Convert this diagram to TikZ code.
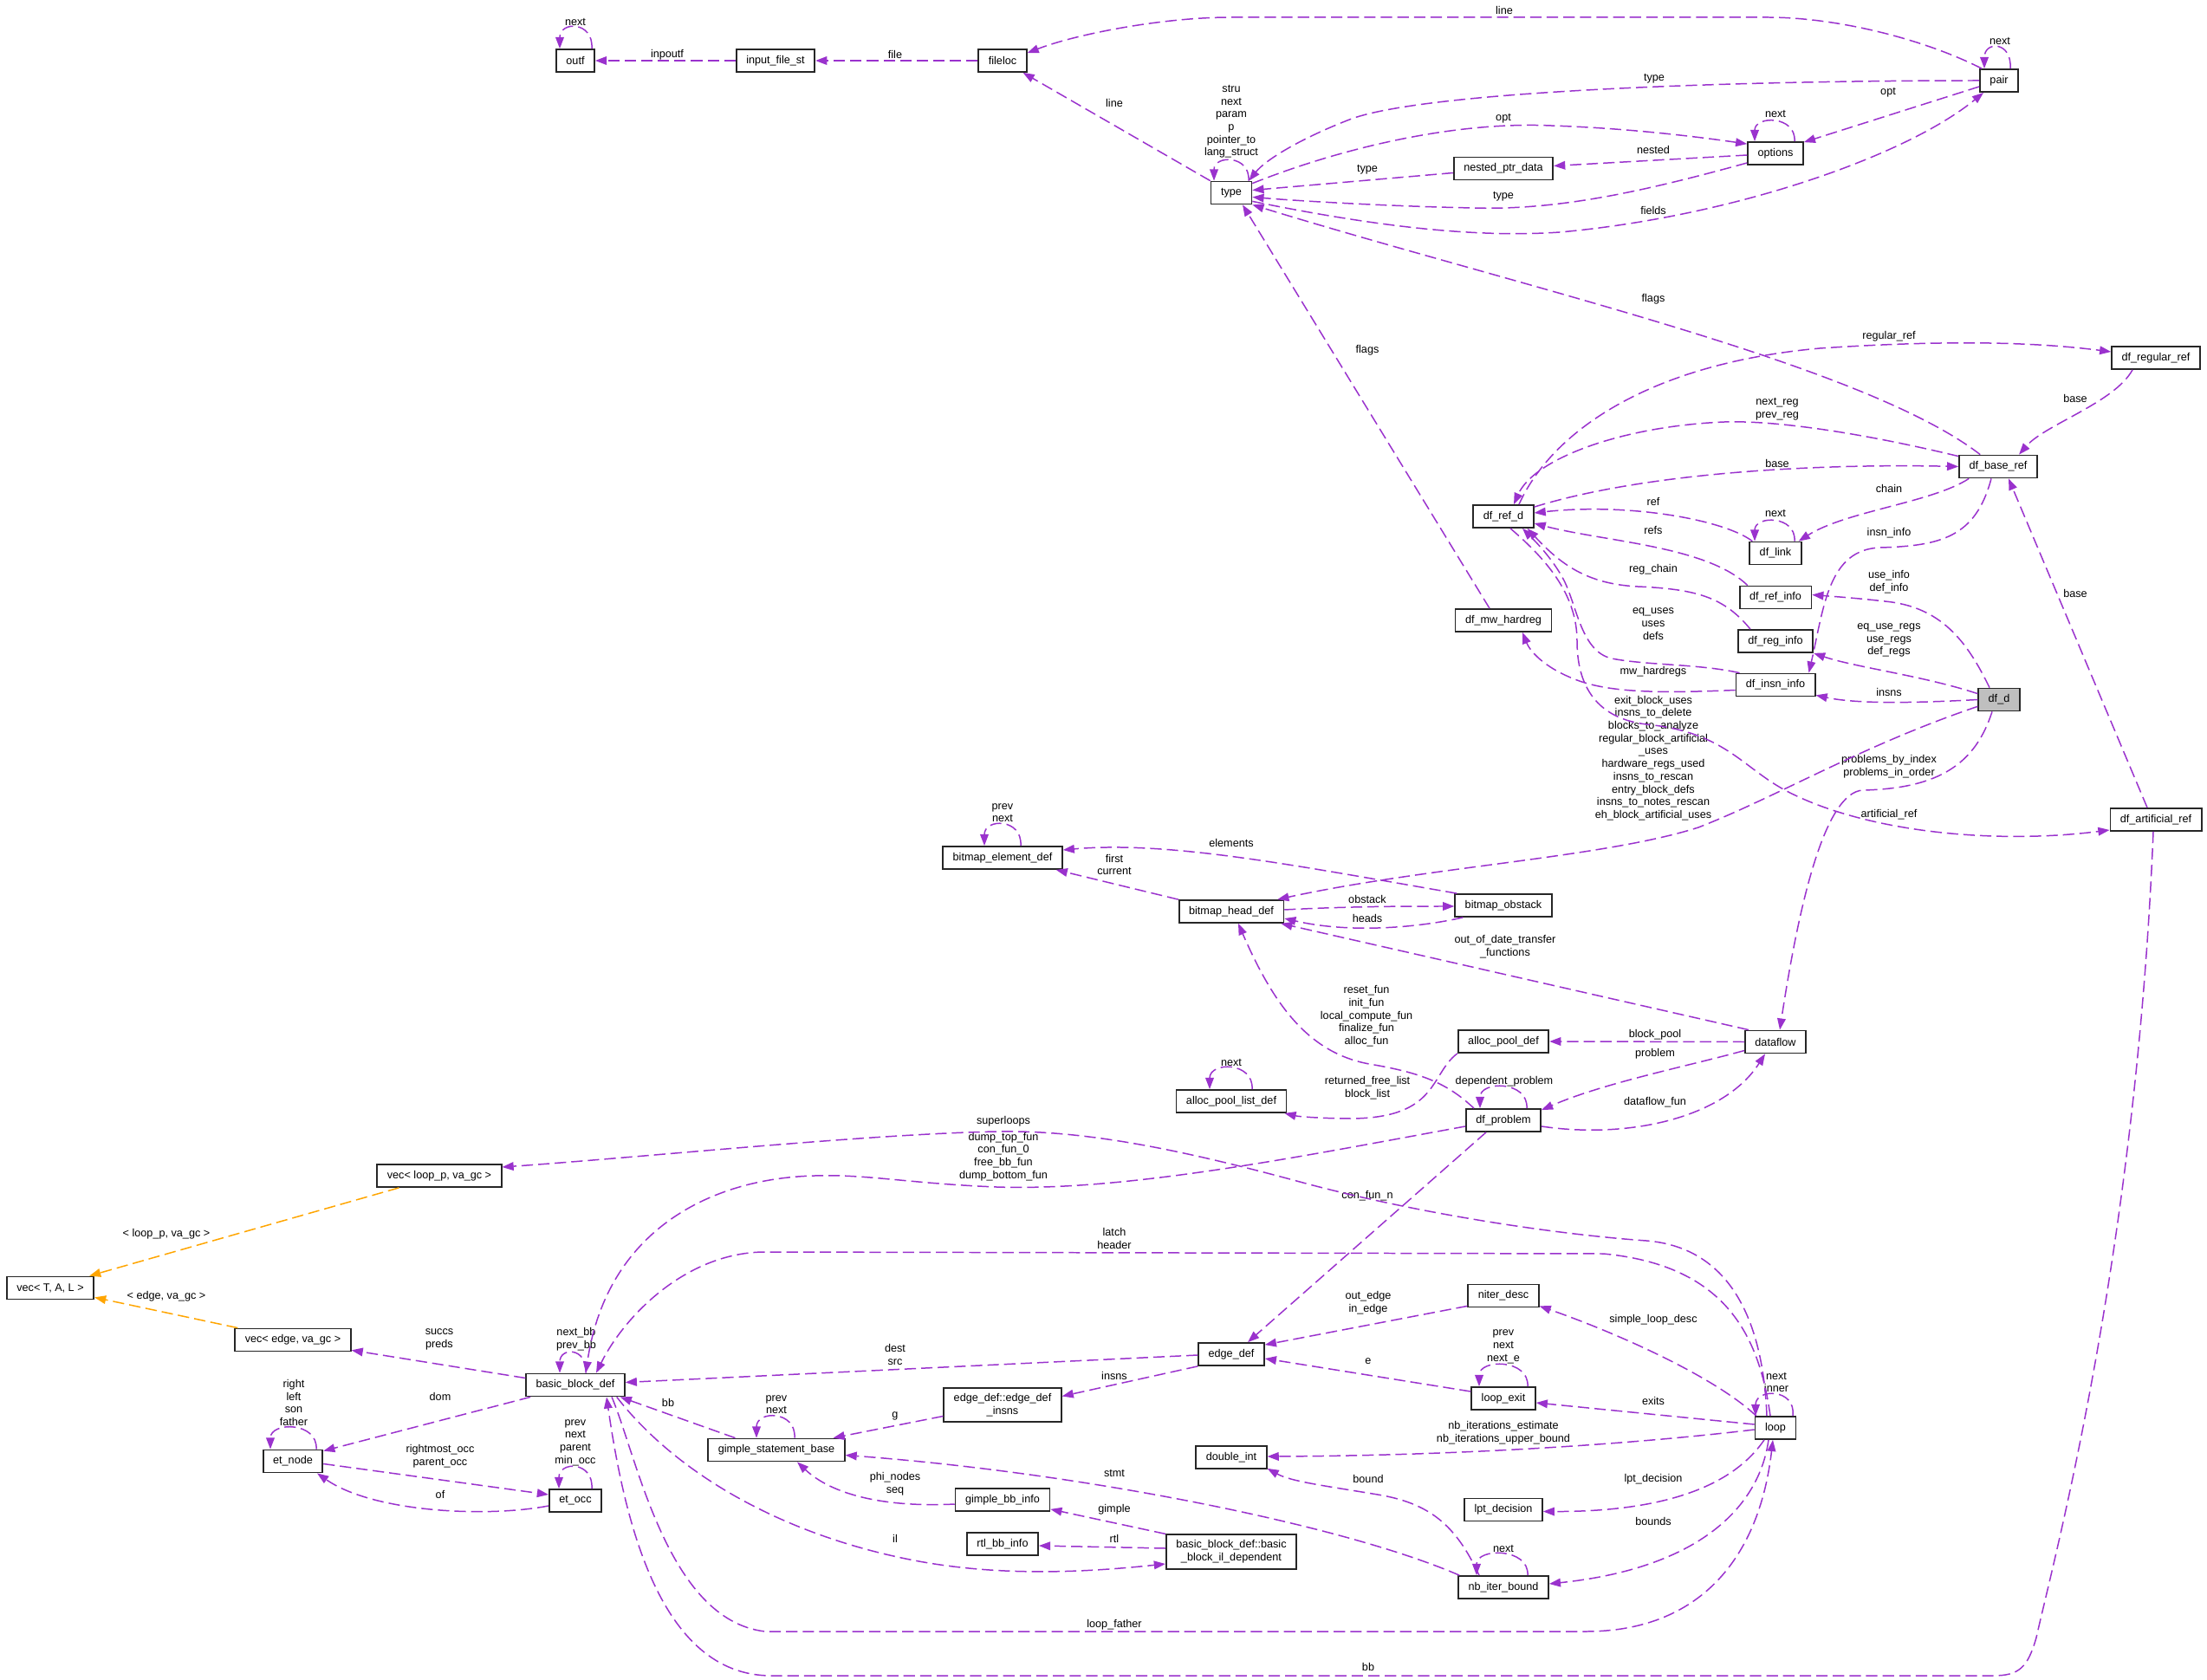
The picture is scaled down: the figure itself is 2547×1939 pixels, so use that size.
\documentclass[tikz,border=0pt]{standalone}
\usepackage{fontspec}
\setmainfont{Liberation Sans}
\usetikzlibrary{arrows.meta,calc}
\definecolor{dotpurple}{HTML}{9A32CD}
\definecolor{dotorange}{HTML}{FFA500}
\definecolor{dotgray}{HTML}{BFBFBF}
\tikzstyle{cls}=[rectangle,draw=black!85,line width=1pt,fill=white,align=center,minimum height=0.52cm,inner xsep=0.23cm,inner ysep=0.13cm,font=\fontsize{7.2}{8.35}\selectfont]
\tikzstyle{root}=[cls,fill=dotgray]
\tikzstyle{lbl}=[align=center,inner sep=0pt,font=\fontsize{7.2}{8.35}\selectfont]
\tikzstyle{dep}=[color=dotpurple,line width=0.85pt,dash pattern=on 7.5pt off 3.4pt,-{Triangle[length=7.5pt,width=5.5pt]}]
\tikzstyle{tmpl}=[dep,color=dotorange]

\begin{document}
\begin{tikzpicture}[x=0.02cm,y=-0.02cm]
\useasboundingbox (0,0) rectangle (2547,1939);
\node[cls] (outf) at (664,70) {outf};
\node[cls] (inputfile) at (895,70) {input\_file\_st};
\node[cls] (fileloc) at (1157,70) {fileloc};
\node[cls] (pair) at (2307,93) {pair};
\node[cls] (type) at (1421,222.5) {type};
\node[cls] (nestedptr) at (1735,194.5) {nested\_ptr\_data};
\node[cls] (options) at (2049,177) {options};
\node[cls] (regularref) at (2488,413) {df\_regular\_ref};
\node[cls] (baseref) at (2306,538.5) {df\_base\_ref};
\node[cls] (refd) at (1735,596) {df\_ref\_d};
\node[cls] (link) at (2049,638.5) {df\_link};
\node[cls] (refinfo) at (2049,689.5) {df\_ref\_info};
\node[cls] (reginfo) at (2049,740) {df\_reg\_info};
\node[cls] (mwhardreg) at (1735,716) {df\_mw\_hardreg};
\node[cls] (insninfo) at (2049,790.5) {df\_insn\_info};
\node[root] (dfd) at (2307,807.5) {df\_d};
\node[cls] (artificialref) at (2488,946) {df\_artificial\_ref};
\node[cls] (dataflow) at (2049,1202.5) {dataflow};
\node[cls] (elemdef) at (1157,990) {bitmap\_element\_def};
\node[cls] (headdef) at (1421,1052) {bitmap\_head\_def};
\node[cls] (obstack) at (1735,1045) {bitmap\_obstack};
\node[cls] (pooldef) at (1735,1202) {alloc\_pool\_def};
\node[cls] (poollist) at (1421,1271) {alloc\_pool\_list\_def};
\node[cls] (problem) at (1735,1293) {df\_problem};
\node[cls] (vecloop) at (507,1357) {vec< loop\_p, va\_gc >};
\node[cls] (vectal) at (58,1486.5) {vec< T, A, L >};
\node[cls] (vecedge) at (338,1546.5) {vec< edge, va\_gc >};
\node[cls] (bb) at (664,1598.5) {basic\_block\_def};
\node[cls] (etnode) at (338,1686.5) {et\_node};
\node[cls] (etocc) at (664,1732) {et\_occ};
\node[cls] (gsb) at (896,1673.5) {gimple\_statement\_base};
\node[cls] (edgeinsns) at (1157,1621.5) {edge\_def::edge\_def\\\_insns};
\node[cls] (edgedef) at (1421,1563) {edge\_def};
\node[cls] (doubleint) at (1421,1682) {double\_int};
\node[cls] (gbbinfo) at (1157,1731) {gimple\_bb\_info};
\node[cls] (rtlinfo) at (1157,1782) {rtl\_bb\_info};
\node[cls] (ildep) at (1421,1791) {basic\_block\_def::basic\\\_block\_il\_dependent};
\node[cls] (niterdesc) at (1735,1495.5) {niter\_desc};
\node[cls] (loopexit) at (1735,1614) {loop\_exit};
\node[cls] (loop) at (2049,1648) {loop};
\node[cls] (lptdec) at (1735,1742.5) {lpt\_decision};
\node[cls] (nbiter) at (1735,1832) {nb\_iter\_bound};

\node[lbl] (tnextoutf) at (664,25) {next};
\node[lbl] (tinpoutf) at (770,63) {inpoutf};
\node[lbl] (tfile) at (1033,63) {file};
\node[lbl] (tlinepair) at (1736,12) {line};
\node[lbl] (tlinetype) at (1286,119) {line};
\node[lbl] (tselftype) at (1421,140.5) {stru\\next\\param\\p\\pointer\_to\\lang\_struct};
\node[lbl] (ttypepair) at (1909,91) {type};
\node[lbl] (toptpair) at (2179,107) {opt};
\node[lbl] (topttype) at (1735,137) {opt};
\node[lbl] (tnextopt) at (2049,131) {next};
\node[lbl] (tnested) at (1908,173) {nested};
\node[lbl] (ttypenest) at (1578,196) {type};
\node[lbl] (ttypeopt) at (1735,227) {type};
\node[lbl] (tfields) at (1908,243) {fields};
\node[lbl] (tnextpair) at (2308,47) {next};
\node[lbl] (tflagsbase) at (1908,345) {flags};
\node[lbl] (tflagsmw) at (1578,404) {flags};
\node[lbl] (tregular) at (2180,388) {regular\_ref};
\node[lbl] (tbasereg) at (2395,460) {base};
\node[lbl] (tnextreg) at (2051,472.5) {next\_reg\\prev\_reg};
\node[lbl] (tbaserefd) at (2051,535) {base};
\node[lbl] (tchain) at (2180,564) {chain};
\node[lbl] (tref) at (1908,579) {ref};
\node[lbl] (tnextlink) at (2049,592) {next};
\node[lbl] (trefs) at (1908,612) {refs};
\node[lbl] (tinsninfo) at (2180,615) {insn\_info};
\node[lbl] (tregchain) at (1908,657) {reg\_chain};
\node[lbl] (tuseinfo) at (2180,671.5) {use\_info\\def\_info};
\node[lbl] (tbaseart) at (2395,685) {base};
\node[lbl] (tequses) at (1908,720) {eq\_uses\\uses\\defs};
\node[lbl] (tuseregs) at (2180,739) {eq\_use\_regs\\use\_regs\\def\_regs};
\node[lbl] (tmwhard) at (1908,775) {mw\_hardregs};
\node[lbl] (tinsns) at (2180,799) {insns};
\node[lbl] (tblocks) at (1908,875) {exit\_block\_uses\\insns\_to\_delete\\blocks\_to\_analyze\\regular\_block\_artificial\\\_uses\\hardware\_regs\_used\\insns\_to\_rescan\\entry\_block\_defs\\insns\_to\_notes\_rescan\\eh\_block\_artificial\_uses};
\node[lbl] (tproblems) at (2180,884.5) {problems\_by\_index\\problems\_in\_order};
\node[lbl] (tartificial) at (2180,940) {artificial\_ref};
\node[lbl] (tprevelem) at (1157,938) {prev\\next};
\node[lbl] (telements) at (1421,973) {elements};
\node[lbl] (tfirst) at (1286,998) {first\\current};
\node[lbl] (tobstack) at (1578,1038) {obstack};
\node[lbl] (theads) at (1578,1060) {heads};
\node[lbl] (toutofdate) at (1737,1092.5) {out\_of\_date\_transfer\\\_functions};
\node[lbl] (tfuns) at (1577,1173) {reset\_fun\\init\_fun\\local\_compute\_fun\\finalize\_fun\\alloc\_fun};
\node[lbl] (tblockpool) at (1910,1194) {block\_pool};
\node[lbl] (tproblem) at (1910,1216) {problem};
\node[lbl] (tnextpool) at (1421,1226) {next};
\node[lbl] (tfreelist) at (1578,1255.5) {returned\_free\_list\\block\_list};
\node[lbl] (tdependent) at (1736,1248) {dependent\_problem};
\node[lbl] (tdataflowfun) at (1910,1272) {dataflow\_fun};
\node[lbl] (tsuperloops) at (1158,1294) {superloops};
\node[lbl] (tdumpfuns) at (1158,1335) {dump\_top\_fun\\con\_fun\_0\\free\_bb\_fun\\dump\_bottom\_fun};
\node[lbl] (tconfunn) at (1578,1380) {con\_fun\_n};
\node[lbl] (tvecloop) at (192,1424) {< loop\_p, va\_gc >};
\node[lbl] (tlatch) at (1286,1429.5) {latch\\header};
\node[lbl] (tvecedge) at (192,1496) {< edge, va\_gc >};
\node[lbl] (toutedge) at (1579,1503.5) {out\_edge\\in\_edge};
\node[lbl] (tsimple) at (1908,1523) {simple\_loop\_desc};
\node[lbl] (tsuccs) at (507,1546) {succs\\preds};
\node[lbl] (tnextbb) at (665,1546) {next\_bb\\prev\_bb};
\node[lbl] (tprevexit) at (1735,1554.5) {prev\\next\\next\_e};
\node[lbl] (tdest) at (1033,1563.5) {dest\\src};
\node[lbl] (te) at (1579,1571) {e};
\node[lbl] (tinsnsedge) at (1286,1588) {insns};
\node[lbl] (tnextloop) at (2050,1595.5) {next\\inner};
\node[lbl] (tdom) at (508,1612) {dom};
\node[lbl] (tright) at (339,1619) {right\\left\\son\\father};
\node[lbl] (tbbgsb) at (771,1619) {bb};
\node[lbl] (tprevgsb) at (896,1621) {prev\\next};
\node[lbl] (texits) at (1908,1617) {exits};
\node[lbl] (tg) at (1033,1634) {g};
\node[lbl] (tprevocc) at (664,1665) {prev\\next\\parent\\min\_occ};
\node[lbl] (tnbiter) at (1735,1654) {nb\_iterations\_estimate\\nb\_iterations\_upper\_bound};
\node[lbl] (trightmost) at (508,1680.5) {rightmost\_occ\\parent\_occ};
\node[lbl] (tstmt) at (1286,1700) {stmt};
\node[lbl] (tphi) at (1033,1713) {phi\_nodes\\seq};
\node[lbl] (tbound) at (1579,1707) {bound};
\node[lbl] (tlpt) at (1908,1707) {lpt\_decision};
\node[lbl] (tof) at (508,1725) {of};
\node[lbl] (tgimple) at (1286,1742) {gimple};
\node[lbl] (tbounds) at (1908,1756) {bounds};
\node[lbl] (trtl) at (1286,1776) {rtl};
\node[lbl] (til) at (1033,1776) {il};
\node[lbl] (tnextnb) at (1735,1787) {next};
\node[lbl] (tloopfather) at (1286,1875) {loop\_father};
\node[lbl] (tbbart) at (1579,1924) {bb};

\draw[dep] ($(outf.north)+(19,0)$) .. controls +(2,-32) and +(0,-32) .. ($(outf.north)+(-18,0)$);
\draw[dep] ($(type.north)+(20,0)$) .. controls +(2,-30) and +(0,-30) .. ($(type.north)+(-20,0)$);
\draw[dep] ($(options.north)+(22,0)$) .. controls +(2,-30) and +(0,-30) .. ($(options.north)+(-24,0)$);
\draw[dep] ($(pair.north)+(13,0)$) .. controls +(2,-32) and +(0,-32) .. ($(pair.north)+(-17,0)$);
\draw[dep] ($(link.north)+(22,0)$) .. controls +(2,-30) and +(0,-30) .. ($(link.north)+(-24,0)$);
\draw[dep] ($(elemdef.north)+(21,0)$) .. controls +(2,-32) and +(0,-32) .. ($(elemdef.north)+(-21,0)$);
\draw[dep] ($(poollist.north)+(24,0)$) .. controls +(2,-32) and +(0,-32) .. ($(poollist.north)+(-25,0)$);
\draw[dep] ($(problem.north)+(27,0)$) .. controls +(2,-32) and +(0,-32) .. ($(problem.north)+(-27,0)$);
\draw[dep] ($(bb.north)+(12,0)$) .. controls +(2,-30) and +(0,-30) .. ($(bb.north)+(-18,0)$);
\draw[dep] ($(etnode.north)+(27,0)$) .. controls +(2,-32) and +(0,-32) .. ($(etnode.north)+(-26,0)$);
\draw[dep] ($(etocc.north)+(19,0)$) .. controls +(2,-32) and +(0,-32) .. ($(etocc.north)+(-19,0)$);
\draw[dep] ($(gsb.north)+(21,0)$) .. controls +(2,-32) and +(0,-32) .. ($(gsb.north)+(-23,0)$);
\draw[dep] ($(loopexit.north)+(28,0)$) .. controls +(2,-32) and +(0,-32) .. ($(loopexit.north)+(-28,0)$);
\draw[dep] ($(nbiter.north)+(28,0)$) .. controls +(2,-32) and +(0,-32) .. ($(nbiter.north)+(-31,0)$);
\draw[dep] ($(loop.north)+(20,0)$) .. controls +(4,-32) and +(0,-32) .. ($(loop.north)+(-23,0)$);

\draw[dep] (inputfile.west) -- (outf.east);
\draw[dep] (fileloc.west) -- (inputfile.east);
\draw[dep] ($(pair.north west)+(3,0)$) .. controls (2220,45) and (2120,20) .. (2040,20) -- (1420,20) .. controls (1340,20) and (1240,40) .. ($(fileloc.north east)+(0,5)$);
\draw[dep] (type.north west) -- ($(fileloc.south east)+(-5,0)$);
\draw[dep] (pair.west) .. controls (2000,93) and (1650,105) .. (1560,137) .. controls (1500,160) and (1460,185) .. ($(type.north east)+(-4,0)$);
\draw[dep] ($(type.north east)+(0,3)$) .. controls (1550,170) and (1680,140) .. (1790,145) .. controls (1880,148) and (1960,158) .. ($(options.north west)+(0,3)$);
\draw[dep] ($(pair.west)+(0,7)$) -- ($(options.north east)+(0,1)$);
\draw[dep] ($(options.west)+(0,2)$) -- ($(nestedptr.east)+(0,-3)$);
\draw[dep] ($(nestedptr.west)+(0,5)$) -- ($(type.east)+(0,-3)$);
\draw[dep] ($(options.west)+(0,11)$) .. controls (1900,220) and (1800,243) .. (1700,240) .. controls (1600,238) and (1500,232) .. ($(type.east)+(0,5)$);
\draw[dep] ($(type.south east)+(0,-4)$) .. controls (1580,260) and (1700,275) .. (1800,268) .. controls (2000,250) and (2200,180) .. ($(pair.south west)+(5,0)$);
\draw[dep] ($(baseref.north west)+(25,0)$) .. controls (2150,420) and (1750,330) .. (type.south east);
\draw[dep] ($(mwhardreg.north)+(-16,0)$) -- ($(type.south)+(13,0)$);
\draw[dep] ($(refd.north)+(18,0)$) .. controls (1790,500) and (1900,420) .. (2100,402) .. controls (2250,392) and (2350,395) .. ($(regularref.west)+(0,-7)$);
\draw[dep] ($(regularref.south)+(-27,0)$) .. controls (2440,465) and (2360,490) .. ($(baseref.north)+(24,0)$);
\draw[dep] ($(baseref.north west)+(0,2)$) .. controls (2150,500) and (2050,485) .. (1990,487) .. controls (1870,492) and (1770,530) .. ($(refd.north)+(12,0)$);
\draw[dep] ($(refd.north east)+(0,3)$) .. controls (1900,545) and (2100,535) .. (baseref.west);
\draw[dep] ($(baseref.south west)+(12,0)$) .. controls (2230,580) and (2130,590) .. ($(link.north east)+(-4,0)$);
\draw[dep] ($(link.north west)+(4,0)$) .. controls (1990,600) and (1880,580) .. ($(refd.east)+(0,-4)$);
\draw[dep] ($(refinfo.north west)+(10,0)$) .. controls (1970,630) and (1850,625) .. ($(refd.east)+(0,8)$);
\draw[dep] ($(reginfo.north west)+(15,0)$) .. controls (1990,690) and (1960,680) .. (1890,677) .. controls (1830,674) and (1800,650) .. ($(refd.south east)+(-8,0)$);
\draw[dep] ($(insninfo.north west)+(5,0)$) .. controls (1960,766) and (1900,768) .. (1860,760) .. controls (1825,752) and (1820,700) .. (1805,670) .. controls (1792,645) and (1772,625) .. ($(refd.south)+(22,0)$);
\draw[dep] ($(baseref.south)+(-8,0)$) .. controls (2280,620) and (2240,630) .. (2170,632) .. controls (2110,634) and (2105,700) .. ($(insninfo.north east)+(-8,0)$);
\draw[dep] ($(dfd.north)+(-11,0)$) .. controls (2270,740) and (2240,700) .. (2175,694) .. controls (2140,690) and (2110,688) .. ($(refinfo.east)+(0,-3)$);
\draw[dep] ($(dfd.north west)+(0,7)$) .. controls (2220,780) and (2140,770) .. (reginfo.south east);
\draw[dep] (dfd.west) .. controls (2200,812) and (2140,812) .. ($(insninfo.south east)+(0,-2)$);
\draw[dep] ($(insninfo.west)+(0,6)$) .. controls (1920,800) and (1860,800) .. (1820,785) .. controls (1780,770) and (1765,750) .. ($(mwhardreg.south)+(22,0)$);
\draw[dep] ($(artificialref.north)+(-10,0)$) -- ($(baseref.south)+(12,0)$);
\draw[dep] ($(refd.south)+(8,0)$) .. controls (1790,650) and (1820,690) .. (1820,740) .. controls (1820,800) and (1850,830) .. (1900,836) .. controls (1990,845) and (2010,885) .. (2060,912) .. controls (2150,960) and (2300,975) .. ($(artificialref.west)+(0,12)$);
\draw[dep] ($(dfd.south west)+(0,-6)$) .. controls (2150,860) and (2050,920) .. (1960,955) .. controls (1850,990) and (1650,1000) .. ($(headdef.north east)+(-8,0)$);
\draw[dep] ($(dfd.south)+(-8,0)$) .. controls (2280,880) and (2240,910) .. (2150,912) .. controls (2105,914) and (2075,1050) .. ($(dataflow.north)+(5,0)$);
\draw[dep] (dataflow.west) -- (pooldef.east);
\draw[dep] ($(dataflow.west)+(0,10)$) .. controls (1950,1230) and (1850,1250) .. ($(problem.north east)+(0,2)$);
\draw[dep] ($(problem.east)+(0,7)$) .. controls (1880,1315) and (1990,1290) .. ($(dataflow.south)+(-12,0)$);
\draw[dep] ($(dataflow.north west)+(5,0)$) -- ($(headdef.south east)+(-4,0)$);
\draw[dep] (headdef.north west) -- ($(elemdef.south east)+(-8,0)$);
\draw[dep] ($(obstack.north west)+(3,0)$) .. controls (1500,1000) and (1350,970) .. ($(elemdef.east)+(0,-9)$);
\draw[dep] ($(headdef.east)+(0,-2)$) .. controls (1560,1046) and (1620,1046) .. ($(obstack.west)+(0,1)$);
\draw[dep] ($(obstack.south west)+(10,0)$) .. controls (1640,1070) and (1560,1078) .. ($(headdef.east)+(0,8)$);
\draw[dep] ($(problem.north west)+(10,0)$) .. controls (1670,1250) and (1640,1238) .. (1580,1228) .. controls (1510,1215) and (1470,1160) .. ($(headdef.south)+(8,0)$);
\draw[dep] (pooldef.south west) .. controls (1650,1240) and (1660,1290) .. (1560,1291) .. controls (1530,1291) and (1500,1289) .. ($(poollist.south east)+(-3,0)$);
\draw[dep] ($(loop.north)+(-10,0)$) .. controls (2035,1530) and (2000,1440) .. (1900,1432) .. controls (1800,1425) and (1640,1402) .. (1500,1364) .. controls (1360,1326) and (1250,1304) .. (1150,1306) .. controls (1000,1309) and (750,1335) .. ($(vecloop.east)+(0,-10)$);
\draw[dep] ($(problem.west)+(0,7)$) .. controls (1500,1335) and (1300,1375) .. (1150,1370) .. controls (1050,1366) and (1000,1355) .. (940,1357) .. controls (820,1360) and (700,1420) .. ($(bb.north)+(12,0)$);
\draw[dep] ($(loop.north)+(-6,0)$) .. controls (2030,1540) and (1990,1460) .. (1850,1447) -- (880,1445) .. controls (790,1447) and (720,1520) .. ($(bb.north)+(24,0)$);
\draw[dep] ($(loop.north west)+(2,0)$) .. controls (1980,1590) and (1870,1540) .. ($(niterdesc.south east)+(0,-2)$);
\draw[dep] ($(loop.west)+(0,-4)$) -- ($(loopexit.east)+(0,5)$);
\draw[dep] ($(loop.west)+(0,2)$) .. controls (1900,1665) and (1700,1680) .. ($(doubleint.east)+(0,-1)$);
\draw[dep] ($(loop.south)+(-13,0)$) .. controls (2010,1700) and (1950,1745) .. ($(lptdec.east)+(0,2)$);
\draw[dep] ($(loop.south)+(-8,0)$) .. controls (2030,1740) and (1960,1810) .. ($(nbiter.east)+(0,-4)$);
\draw[dep] ($(bb.south)+(42,0)$) .. controls (735,1680) and (770,1870) .. (883,1883) -- (1830,1883) .. controls (1960,1883) and (2030,1800) .. ($(loop.south)+(-3,0)$);
\draw[dep] ($(artificialref.south)+(-3,0)$) .. controls (2465,1450) and (2370,1800) .. (2350,1890) .. controls (2340,1925) and (2330,1934) .. (2300,1934) -- (890,1934) .. controls (760,1934) and (720,1750) .. ($(bb.south)+(36,0)$);
\draw[dep] ($(bb.west)+(0,-8)$) -- ($(vecedge.south east)+(0,-2)$);
\draw[dep] ($(bb.south west)+(6,0)$) -- ($(etnode.north east)+(0,2)$);
\draw[dep] ($(etnode.east)+(0,3)$) -- ($(etocc.west)+(0,-7)$);
\draw[dep] ($(etocc.west)+(0,6)$) .. controls (560,1752) and (430,1745) .. ($(etnode.south)+(28,0)$);
\draw[tmpl] ($(vecloop.south west)+(26,0)$) -- ($(vectal.north east)+(-6,0)$);
\draw[tmpl] ($(vecedge.north west)+(4,0)$) -- ($(vectal.south east)+(0,-3)$);
\draw[dep] ($(edgedef.west)+(0,1)$) -- ($(bb.east)+(0,-3)$);
\draw[dep] (edgedef.south west) -- ($(edgeinsns.east)+(0,-10)$);
\draw[dep] ($(edgeinsns.west)+(0,13)$) -- ($(gsb.north east)+(-14,0)$);
\draw[dep] ($(gsb.north west)+(32,0)$) -- ($(bb.south east)+(-6,0)$);
\draw[dep] ($(gbbinfo.west)+(0,5)$) .. controls (1020,1740) and (960,1725) .. ($(gsb.south)+(24,0)$);
\draw[dep] (ildep.north west) -- ($(gbbinfo.south east)+(0,-3)$);
\draw[dep] ($(ildep.west)+(0,-4)$) -- ($(rtlinfo.east)+(0,2)$);
\draw[dep] ($(bb.south east)+(-10,0)$) .. controls (780,1700) and (900,1770) .. (1050,1800) .. controls (1150,1820) and (1250,1815) .. ($(ildep.west)+(0,14)$);
\draw[dep] ($(nbiter.north west)+(2,0)$) .. controls (1550,1760) and (1250,1700) .. ($(gsb.east)+(0,6)$);
\draw[dep] ($(nbiter.north)+(-28,0)$) .. controls (1680,1760) and (1650,1735) .. (1590,1725) .. controls (1530,1715) and (1490,1710) .. ($(doubleint.south east)+(0,-1)$);
\draw[dep] ($(loopexit.west)+(0,-8)$) -- ($(edgedef.east)+(0,5)$);
\draw[dep] ($(niterdesc.south west)+(0,-2)$) -- ($(edgedef.north east)+(0,3)$);
\draw[dep] ($(problem.south)+(-20,0)$) -- ($(edgedef.north)+(19,0)$);
\end{tikzpicture}
\end{document}
